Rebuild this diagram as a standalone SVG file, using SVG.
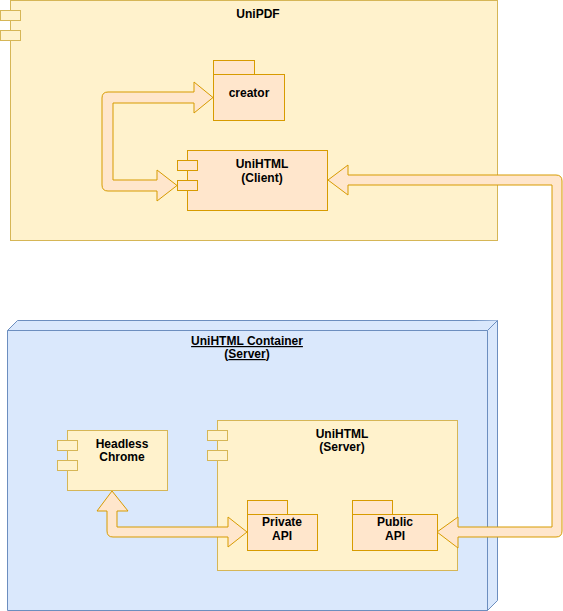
<svg xmlns="http://www.w3.org/2000/svg" width="563" height="611" viewBox="0 0 563 611">
<style>
.y{fill:#fff2cc;stroke:#d6b656;stroke-width:1}
.o{fill:#ffe6cc;stroke:#d79b00;stroke-width:1}
.b{fill:#dae8fc;stroke:#6c8ebf;stroke-width:1}
.arr{fill:#ffe6cc;stroke:#d79b00;stroke-width:1;stroke-linejoin:miter}
text{font-family:"Liberation Sans",Arial,sans-serif;font-size:12px;font-weight:bold;fill:#000;text-anchor:middle}
</style>
<rect width="563" height="611" fill="#fff"/>
<g id="uniPDF">
<rect class="y" x="10.5" y="0.5" width="487" height="240"/>
<rect class="y" x="0.5" y="10.5" width="20" height="10"/>
<rect class="y" x="0.5" y="30.5" width="20" height="10"/>
<text x="258" y="18">UniPDF</text>
</g>
<g id="container">
<path class="b" d="M7.5,330.5 L17.5,320.5 L497.5,320.5 L497.5,600.5 L487.5,610.5 L7.5,610.5 Z"/>
<path class="b" d="M7.5,330.5 L487.5,330.5 L497.5,320.5 M487.5,330.5 L487.5,610.5" fill="none"/>
<text x="247" y="345" text-decoration="underline">UniHTML Container</text>
<text x="247" y="358">(<tspan text-decoration="underline">Server</tspan>)</text>
</g>
<g id="uniHTMLServer">
<rect class="y" x="217.5" y="420.5" width="240" height="150"/>
<rect class="y" x="207.5" y="430.5" width="20" height="10"/>
<rect class="y" x="207.5" y="450.5" width="20" height="10"/>
<text x="342" y="438">UniHTML</text>
<text x="342" y="451">(Server)</text>
</g>
<g id="headlessChrome">
<rect class="y" x="67.5" y="430.5" width="100" height="60"/>
<rect class="y" x="57.5" y="440.5" width="20" height="10"/>
<rect class="y" x="57.5" y="460.5" width="20" height="10"/>
<text x="122" y="448">Headless</text>
<text x="122" y="461">Chrome</text>
</g>
<g id="connectors">
<path class="arr" d="M213,97.5 L194,82 L194,92 L108,92 Q102,92 102,98 L102,185 Q102,191 108,191 L157,191 L157,201 L177,185.5 L157,170 L157,180 L113,180 L113,103 L194,103 L194,113 Z"/>
<path class="arr" d="M328,180 L348,165 L348,175 L556,175 Q562,175 562,181 L562,531 Q562,537 556,537 L458,537 L458,548 L437,532 L458,517 L458,527 L552,527 L552,185 L348,185 L348,195 Z"/>
<path class="arr" d="M112,491 L128,511 L117,511 L117,527 L228,527 L228,517 L247,532 L228,547 L228,537 L113,537 Q107,537 107,531 L107,511 L97,511 Z"/>
</g>
<g id="creator">
<rect class="o" x="213.5" y="60.5" width="41" height="14"/>
<rect class="o" x="213.5" y="74.5" width="71" height="46"/>
<text x="249" y="97">creator</text>
</g>
<g id="uniHTMLClient">
<rect class="o" x="187.5" y="150.5" width="140" height="60"/>
<rect class="o" x="177.5" y="160.5" width="20" height="10"/>
<rect class="o" x="177.5" y="180.5" width="20" height="10"/>
<text x="262" y="168">UniHTML</text>
<text x="262" y="182">(Client)</text>
</g>
<g id="privateAPI">
<rect class="o" x="247.5" y="500.5" width="40" height="14"/>
<rect class="o" x="247.5" y="514.5" width="70" height="36"/>
<text x="282" y="526">Private</text>
<text x="282" y="540">API</text>
</g>
<g id="publicAPI">
<rect class="o" x="352.5" y="500.5" width="40" height="14"/>
<rect class="o" x="352.5" y="514.5" width="85" height="36"/>
<text x="395" y="526">Public</text>
<text x="395" y="540">API</text>
</g>
</svg>
